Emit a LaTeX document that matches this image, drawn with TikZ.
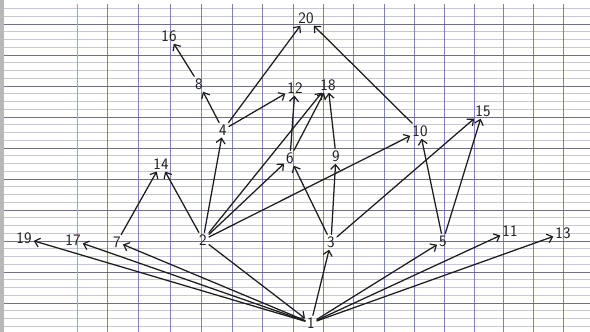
\documentclass[tikz,border=0pt]{standalone}
\usetikzlibrary{arrows.meta}
\definecolor{ink}{HTML}{1C1C1C}
\definecolor{majorline}{HTML}{70708A}
\definecolor{minorline}{HTML}{C8C8D2}
\definecolor{vline}{HTML}{5A5AA6}
\definecolor{margin}{HTML}{D890A8}
\definecolor{edgestrip}{HTML}{B8B8B8}
\begin{document}
\begin{tikzpicture}[x=1pt,y=-1pt,
  lbl/.style={inner sep=2pt, font=\sffamily\fontsize{16}{16}\selectfont, text=ink},
  link/.style={draw=ink, line width=1.25pt, line cap=round, -{Straight Barb[length=5pt,width=9pt,line width=1.2pt]}},
  minorrule/.style={draw=minorline, line width=0.7pt},
  majorrule/.style={draw=majorline, line width=0.9pt},
  vrule/.style={draw=vline, line width=0.9pt, opacity=0.75}]
\useasboundingbox (0,0) rectangle (590,332);
% paper
\fill[white] (0,0) rectangle (590,332);
\fill[edgestrip] (0,0) rectangle (4,332);
\foreach \k in {0,...,41} {
  \draw[minorrule] (4,{8.5+7.75*\k}) -- (590,{8.5+7.75*\k});
}
\foreach \k in {0,...,9} {
  \draw[majorrule] (4,{24+31*\k}) -- (590,{24+31*\k});
}
\foreach \xx in {107,138,170,201,232,262,293,323,353,384,414,444,474,503,533,563} {
  \draw[vrule] (\xx,4) -- (\xx,332);
}
\draw[margin, line width=1pt] (77,4) -- (77,332);

% nodes
\node[lbl] (n20) at (306,18) {20};
\node[lbl] (n16) at (169,36) {16};
\node[lbl] (n8)  at (199,84) {8};
\node[lbl] (n12) at (295,88) {12};
\node[lbl] (n18) at (328,85) {18};
\node[lbl] (n4)  at (223,130) {4};
\node[lbl] (n10) at (420,131) {10};
\node[lbl] (n15) at (483,111) {15};
\node[lbl] (n14) at (161,164) {14};
\node[lbl] (n6)  at (290,158) {6};
\node[lbl] (n9)  at (336,156) {9};
\node[lbl] (n19) at (24,238) {19};
\node[lbl] (n17) at (73,240) {17};
\node[lbl] (n7)  at (117,242) {7};
\node[lbl] (n2)  at (203,240) {2};
\node[lbl] (n3)  at (331,242) {3};
\node[lbl] (n5)  at (443,241) {5};
\node[lbl] (n11) at (510,231) {11};
\node[lbl] (n13) at (563,233) {13};
\node[lbl] (n1)  at (311,323) {1};

% edges
\draw[link] (n1) -- (n19);
\draw[link] (n1) -- (n17);
\draw[link] (n1) -- (n7);
\draw[link] (n1) -- (n3);
\draw[link] (n1) -- (n5);
\draw[link] (n1) -- (n11);
\draw[link] (n1) -- (n13);
\draw[link] (n2) -- (n1);
\draw[link] (n2) -- (n14);
\draw[link] (n7) -- (n14);
\draw[link] (n2) -- (n4);
\draw[link] (n2) -- (n18);
\draw[link] (n2) -- (n6);
\draw[link] (n2) -- (n10);
\draw[link] (n3) -- (n6);
\draw[link] (n3) -- (n9);
\draw[link] (n3) -- (n15);
\draw[link] (n5) -- (n10);
\draw[link] (n5) -- (n15);
\draw[link] (n4) -- (n8);
\draw[link] (n8) -- (n16);
\draw[link] (n4) -- (n12);
\draw[link] (n4) -- (n20);
\draw[link] (n6) -- (n12);
\draw[link] (n6) -- (n18);
\draw[link] (n9) -- (n18);
\draw[link] (n10) -- (n20);
\end{tikzpicture}
\end{document}
